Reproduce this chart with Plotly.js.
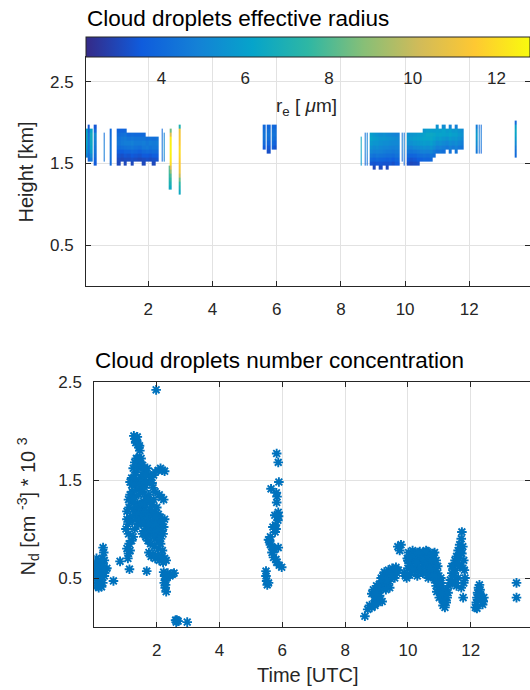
<!DOCTYPE html>
<html>
<head>
<meta charset="utf-8">
<script src="https://cdn.plot.ly/plotly-3.0.1.min.js"></script>
<style>html,body{margin:0;padding:0;background:#fff}#chart{width:530px;height:690px}</style>
</head>
<body>
<div id="chart"></div>
<script>
// ---------- Top panel: cloud droplet effective radius (time-height) ----------
const reHeights = [1.15,1.20,1.25,1.30,1.35,1.40,1.45,1.50,1.55,1.60,1.65,1.70,1.75,1.80,1.85,1.90,1.95,2.00]; // km
const reColStart = [0.05,0.12,0.17,0.30,0.60,0.80,1.03,1.13,1.23,1.34,1.45,1.56,1.67,1.78,1.91,2.01,2.12,2.22,2.42,2.47,2.63,2.67,2.96,
  5.56,5.68,5.83,5.92,8.61,8.73,8.79,8.89,8.99,9.09,9.19,9.29,9.39,9.49,9.59,9.69,9.79,9.88,9.96,
  10.05,10.15,10.25,10.35,10.45,10.55,10.65,10.75,10.85,10.95,11.05,11.15,11.25,11.35,11.45,11.55,11.65,11.75,12.20,12.28,12.36,13.42];
const reColEnd = [0.12,0.17,0.27,0.38,0.64,0.85,1.13,1.23,1.34,1.45,1.56,1.67,1.78,1.91,2.01,2.12,2.22,2.33,2.46,2.50,2.67,2.73,3.01,
  5.66,5.80,5.90,6.00,8.65,8.77,8.83,8.99,9.09,9.19,9.29,9.39,9.49,9.59,9.69,9.79,9.84,9.92,10.00,
  10.15,10.25,10.35,10.45,10.55,10.65,10.75,10.85,10.95,11.05,11.15,11.25,11.35,11.45,11.55,11.65,11.75,11.81,12.26,12.33,12.40,13.48];
const reColBase = [1.60,1.55,1.55,1.50,1.55,1.50,1.50,1.55,1.50,1.55,1.50,1.55,1.55,1.50,1.55,1.55,1.50,1.55,1.55,1.55,1.20,1.20,1.15,
  1.70,1.65,1.70,1.70,1.50,1.50,1.50,1.50,1.45,1.50,1.45,1.50,1.45,1.50,1.50,1.50,1.50,1.55,1.50,
  1.50,1.50,1.50,1.50,1.55,1.55,1.55,1.55,1.60,1.65,1.65,1.65,1.70,1.65,1.70,1.65,1.70,1.70,1.65,1.65,1.65,1.60];
const reColValues = [ // r_e in micrometre, from the column base upward in 0.05 km steps
  [5.0,5.5,6.0,6.2,6.4,6.5,6.3],
  [3.8,4.1,4.3,4.4,4.5,4.4,4.2,3.9,3.4],
  [4.6,5.2,5.8,6.2,6.4,6.5,6.6,6.2],
  [3.5,3.8,4.1,4.3,4.5,4.7,4.9,5.1,4.0,3.4],
  [4.4,4.6,4.7,4.7,4.6,4.4,4.2],
  [4.0,4.2,4.3,4.4,4.4,4.3,4.2,4.1,4.0],
  [3.0,3.1,3.3,3.6,4.1,4.4,4.3,4.1,3.8],
  [3.0,3.2,3.6,4.2,4.6,4.5,4.2,3.8],
  [3.0,3.1,3.4,3.8,4.3,4.7,4.6,4.3,3.9],
  [3.1,3.3,3.8,4.4,4.7,4.4,4.0],
  [3.0,3.2,3.5,4.0,4.5,4.8,4.5,4.1],
  [3.1,3.4,3.9,4.3,4.6,4.4,4.0],
  [3.0,3.3,3.7,4.2,4.6,4.4,4.0],
  [3.0,3.1,3.5,4.0,4.5,4.7,4.4,4.0],
  [3.2,3.5,4.1,4.6,4.5,4.2],
  [3.1,3.4,4.0,4.4,4.7,4.3],
  [3.0,3.2,3.6,4.1,4.5,4.6,4.2],
  [3.3,3.6,4.1,4.5,4.7,4.4],
  [4.0,4.2,4.3,4.4,4.3,4.2,4.1,4.0],
  [4.8,5.0,5.2,5.3,5.2,5.0,4.8],
  [6.6,7.0,7.2,7.4,7.6,7.8],
  [6.5,7.0,7.5,8.0,9.0,10.5,12.0,12.3,12.5,12.6,12.6,12.5,12.4,10.5,8.5],
  [6.5,7.0,7.5,8.5,10.0,11.0,11.3,11.5,11.6,11.8,12.0,11.8,11.5,11.3,11.2,11.0,7.0],
  [3.5,4.0,4.3,4.4,4.2,4.0],
  [3.2,3.4,3.8,4.2,4.4,4.2,3.9],
  [3.7,4.1,4.4,4.5,4.3,4.0],
  [3.3,3.7,4.1,4.3,4.2,3.9],
  [5.8,6.0,6.2,6.4,6.5,6.6,6.4],
  [4.0,4.2,4.4,4.6,4.7,4.7,4.6,4.4],
  [4.2,4.4,4.6,4.8,4.9,4.9,4.8,4.6],
  [3.4,4.0,4.5,5.0,5.4,5.8,6.2,6.0],
  [3.0,3.3,3.8,4.3,4.8,5.2,5.6,5.9,5.7],
  [3.4,4.0,4.5,4.9,5.3,5.6,5.8,5.5],
  [3.1,3.4,3.9,4.4,4.8,5.1,5.4,5.6,5.3],
  [3.3,3.8,4.3,4.7,5.0,5.3,5.6,5.4],
  [3.0,3.3,3.7,4.2,4.6,5.0,5.3,5.5,5.2],
  [3.4,3.8,4.2,4.6,4.9,5.2,5.4,5.1],
  [3.2,3.6,4.1,4.5,4.8,5.1,5.3,5.0],
  [3.5,3.9,4.3,4.6,4.9,5.1,5.2,4.9],
  [3.6,4.0,4.3,4.6,4.8,5.0,5.0,4.8],
  [4.0,4.2,4.4,4.6,4.7,4.6,4.4],
  [3.9,4.1,4.4,4.6,4.8,4.8,4.6,4.4],
  [3.2,3.5,4.0,4.5,5.0,5.4,5.7,5.5],
  [3.0,3.3,3.8,4.4,4.9,5.4,5.8,5.6],
  [3.1,3.4,3.9,4.5,5.1,5.6,5.9,5.7],
  [3.2,3.6,4.1,4.6,5.2,5.7,6.0,5.8],
  [3.7,4.2,4.8,5.3,5.8,6.1,5.9],
  [3.9,4.3,4.9,5.4,5.9,6.2,6.1,5.7],
  [3.8,4.2,4.8,5.3,5.8,6.2,6.3,5.9],
  [4.0,4.4,5.0,5.5,6.0,6.3,6.4,6.0],
  [4.2,4.6,5.2,5.7,6.1,6.3,5.9],
  [4.3,4.8,5.3,5.8,6.1,6.0,5.5],
  [4.4,4.9,5.4,5.9,6.2,5.9],
  [4.2,4.7,5.2,5.7,6.1,6.1,5.3],
  [4.5,5.0,5.5,6.0,5.8],
  [4.3,4.8,5.3,5.8,6.2,6.0,5.0],
  [4.6,5.1,5.6,6.0,5.7],
  [4.4,4.8,5.3,5.7,6.0,5.8,4.8],
  [4.5,5.0,5.4,5.7,5.5],
  [4.4,4.7,5.1,5.4,5.2],
  [4.5,4.9,5.3,5.6,5.8,5.4,4.6],
  [4.1,4.4,4.6,4.8,4.8,4.6,4.2],
  [3.9,4.2,4.4,4.5,4.5,4.4,4.1],
  [4.0,4.2,4.6,5.2,5.8,6.2,6.4,6.0,4.0]
];
const reRange = [2.2, 12.8];
const reTicks = [4, 6, 8, 10, 12];

// ---------- Bottom panel: cloud droplet number concentration ----------
const ndTime = [
  0.03,0.05,0.06,0.08,0.10,0.12,0.14,0.16,0.18,0.20,0.22,0.25,0.27,0.29,0.31,0.33,0.04,0.07,0.11,0.15,0.19,0.24,0.28,0.33,0.38,0.41,0.09,0.13,0.17,0.21,0.26,0.30,
  0.05,0.08,0.12,0.18,0.22,0.28,0.32,0.02,0.06,0.14,
  0.62,0.83,1.13,1.68,1.98,
  1.27,1.30,1.33,1.36,1.40,1.43,1.46,1.45,1.38,
  1.40,1.45,1.50,1.42,1.35,1.30,1.25,1.20,1.15,1.28,1.38,1.48,1.55,1.52,1.45,1.35,1.22,1.15,1.10,1.18,1.30,1.42,1.55,1.62,1.65,1.58,1.48,1.35,1.25,1.12,1.05,1.60,1.70,1.75,1.82,1.90,1.95,2.05,2.12,2.18,2.25,1.88,1.95,2.08,2.15,2.22,1.85,
  1.55,1.60,1.50,1.45,1.40,1.35,1.65,1.70,1.75,1.80,1.85,1.90,2.00,2.05,2.10,1.95,1.88,1.82,1.68,1.60,1.40,1.32,1.25,1.20,1.25,1.30,1.35,1.50,1.55,1.60,1.65,1.70,
  1.05,1.08,1.02,1.10,1.15,1.22,1.28,1.35,1.42,1.48,1.52,1.58,1.62,1.68,1.72,1.78,1.85,1.92,2.00,2.05,2.12,2.18,2.22,2.15,2.08,2.00,1.92,1.85,1.78,1.70,1.65,1.72,1.80,1.90,1.98,2.05,2.12,2.20,2.25,1.95,1.75,1.60,1.55,1.30,1.25,1.20,1.12,1.05,1.10,1.08,1.15,
  1.75,1.82,1.88,1.95,2.02,2.08,2.15,2.20,2.25,2.30,1.92,2.05,2.12,2.18,
  2.22,2.25,2.28,2.24,2.27,2.30,2.32,2.35,2.42,2.50,2.55,2.28,
  2.60,2.64,2.68,2.62,2.97,
  5.82,5.87,5.89,5.64,5.81,5.83,5.82,5.87,5.88,5.86,5.76,5.78,5.80,5.77,5.62,5.60,5.62,5.56,5.87,5.67,5.72,5.82,5.98,5.48,5.48,5.50,5.52,5.56,5.75,5.80,5.90,5.70,5.66,
  8.63,8.72,8.78,8.85,8.92,8.98,9.05,9.12,9.18,8.85,8.90,8.95,9.00,9.05,9.10,9.15,9.20,9.25,9.30,9.38,9.42,9.20,9.25,9.32,9.38,9.45,9.50,9.55,9.62,9.70,9.28,9.45,9.58,9.68,9.74,9.78,9.88,9.92,
  9.10,9.30,9.35,9.50,9.65,9.00,8.95,9.15,
  10.00,10.00,10.02,10.10,10.12,10.15,10.20,10.22,10.25,10.30,10.35,10.38,10.42,10.45,10.50,10.55,10.58,10.62,10.65,10.70,10.72,10.78,10.82,10.85,10.88,9.96,10.05,10.30,10.48,
  10.05,10.18,10.28,10.40,10.52,10.60,10.68,10.75,10.90,10.95,10.08,10.33,10.58,10.80,10.15,10.40,10.68,9.98,
  10.55,10.65,10.75,10.85,10.90,10.95,11.00,11.05,11.10,11.12,11.18,11.22,11.25,11.15,10.95,11.05,11.00,10.92,11.08,11.20,10.80,10.70,
  10.85,10.98,11.10,11.15,11.28,11.05,
  11.30,11.35,11.40,11.42,11.45,11.48,11.50,11.52,11.55,11.58,11.60,11.62,11.65,11.68,11.70,11.72,11.75,11.78,11.80,11.82,11.78,11.76,11.70,11.60,11.55,
  11.40,11.50,11.65,11.72,11.75,
  12.15,12.18,12.20,12.22,12.25,12.28,12.30,12.32,12.35,12.38,12.40,12.42,12.20,
  13.46,13.46
];
const ndValue = [
  0.62,0.58,0.66,0.55,0.60,0.52,0.48,0.45,0.50,0.46,0.55,0.62,0.70,0.81,0.76,0.68,0.44,0.47,0.42,0.40,0.43,0.41,0.45,0.52,0.58,0.60,0.64,0.57,0.53,0.62,0.66,0.58,
  0.50,0.70,0.62,0.58,0.68,0.62,0.58,0.55,0.42,0.55,
  0.47,0.67,0.59,0.57,2.42,
  1.95,1.92,1.88,1.90,1.86,1.83,1.80,1.85,1.94,
  1.72,1.68,1.65,1.62,1.58,1.55,1.50,1.52,1.48,1.45,1.48,1.52,1.55,1.45,1.42,1.40,1.38,1.35,1.30,1.28,1.32,1.35,1.38,1.42,1.33,1.28,1.25,1.22,1.20,1.22,1.18,1.50,1.47,1.55,1.53,1.55,1.58,1.60,1.62,1.60,1.59,1.42,1.38,1.35,1.32,1.30,1.47,
  1.20,1.15,1.18,1.25,1.20,1.15,1.25,1.30,1.35,1.28,1.25,1.30,1.08,1.02,1.05,0.98,1.08,1.02,1.08,1.05,1.05,1.25,1.30,1.45,1.62,1.68,1.72,1.72,1.65,1.60,1.55,1.62,
  1.10,1.05,1.00,0.95,1.12,1.08,1.15,1.10,1.15,1.10,1.05,1.15,1.08,1.18,1.12,1.20,1.15,1.18,1.22,1.15,1.12,1.08,1.02,0.98,0.95,1.00,1.05,0.98,0.95,1.00,0.92,0.88,0.85,0.92,0.90,0.88,0.90,0.95,1.10,1.12,1.05,0.98,0.95,1.00,0.92,0.88,0.85,0.80,0.75,0.70,0.78,
  0.76,0.72,0.74,0.70,0.73,0.68,0.72,0.66,0.70,0.68,0.82,0.80,0.85,0.78,
  0.56,0.52,0.48,0.45,0.40,0.36,0.50,0.55,0.52,0.54,0.55,0.43,
  0.07,0.07,0.06,0.05,0.05,
  1.77,1.68,1.48,1.41,1.37,1.33,1.27,1.17,1.13,1.09,1.14,1.04,1.00,0.97,0.92,0.88,0.84,0.89,0.81,0.76,0.71,0.66,0.61,0.57,0.52,0.47,0.43,0.45,0.79,0.69,0.63,1.02,0.82,
  0.11,0.18,0.22,0.20,0.24,0.27,0.25,0.28,0.26,0.34,0.38,0.31,0.42,0.36,0.44,0.39,0.46,0.42,0.45,0.44,0.40,0.52,0.56,0.53,0.58,0.55,0.60,0.57,0.61,0.58,0.49,0.49,0.50,0.82,0.78,0.84,0.55,0.52,
  0.32,0.38,0.48,0.52,0.55,0.35,0.22,0.50,
  0.60,0.68,0.76,0.63,0.72,0.78,0.58,0.67,0.75,0.62,0.70,0.77,0.60,0.68,0.75,0.63,0.71,0.77,0.58,0.67,0.74,0.62,0.70,0.76,0.60,0.50,0.53,0.52,0.55,
  0.65,0.70,0.66,0.72,0.68,0.65,0.72,0.68,0.68,0.62,0.72,0.76,0.78,0.75,0.58,0.57,0.55,0.70,
  0.55,0.50,0.52,0.48,0.42,0.45,0.38,0.33,0.28,0.22,0.20,0.25,0.30,0.35,0.55,0.50,0.30,0.36,0.42,0.38,0.58,0.60,
  0.52,0.48,0.35,0.25,0.35,0.45,
  0.42,0.48,0.55,0.45,0.62,0.52,0.68,0.58,0.72,0.65,0.78,0.70,0.84,0.76,0.90,0.97,0.82,0.68,0.58,0.50,0.45,0.30,0.40,0.50,0.42,
  0.62,0.45,0.62,0.75,0.60,
  0.20,0.25,0.30,0.35,0.40,0.43,0.38,0.33,0.28,0.23,0.26,0.30,0.19,
  0.45,0.30
];
const timeTicks = [2, 4, 6, 8, 10, 12];
const heightTicks = [0.5, 1.5, 2.5];
const ndTicks = [0.5, 1.5, 2.5];

// ---------- build heatmap table ----------
const xEdges = [reColStart[0]];
const colIndex = [];
for (let i = 0; i < reColStart.length; i++) {
  if (i > 0 && reColStart[i] > reColEnd[i - 1] + 1e-9) { colIndex.push(null); xEdges.push(reColStart[i]); }
  colIndex.push(i); xEdges.push(reColEnd[i]);
}
const zMatrix = reHeights.map(h => colIndex.map(c => {
  if (c === null) return null;
  const k = Math.round((h - reColBase[c]) / 0.05);
  if (k < 0 || k >= reColValues[c].length) return null;
  return reColValues[c][k];
}));

const parula = [
  [0.000,'#352a87'],[0.125,'#0f5cdd'],[0.250,'#1481d6'],[0.375,'#06a4ca'],
  [0.500,'#2eb7a4'],[0.625,'#87bf77'],[0.750,'#d1bb59'],[0.875,'#fec832'],[1.000,'#f9fb0e']
];

const W = 530, H = 690;
const FONT = '"Liberation Sans", Arial, Helvetica, sans-serif';
const INK = '#262626';
const px = v => v / W, py = v => 1 - v / H;

const heat = {
  type: 'heatmap', x: xEdges, y: reHeights, z: zMatrix,
  xaxis: 'x', yaxis: 'y', colorscale: parula, zmin: reRange[0], zmax: reRange[1],
  zsmooth: false, hoverinfo: 'skip', showscale: true,
  colorbar: {
    orientation: 'h', x: px(86), xanchor: 'left', y: py(37.3), yanchor: 'top',
    len: 444, lenmode: 'pixels', thickness: 20, thicknessmode: 'pixels',
    xpad: 0, ypad: 0, outlinewidth: 1, outlinecolor: INK,
    tickmode: 'array', tickvals: reTicks, ticks: 'outside', ticklen: 7, tickcolor: 'rgba(0,0,0,0)',
    tickfont: {family: FONT, size: 17, color: INK}
  }
};
const scat = {
  type: 'scatter', mode: 'markers', x: ndTime, y: ndValue, xaxis: 'x2', yaxis: 'y2',
  hoverinfo: 'skip',
  marker: {symbol: 'asterisk-open', size: 8, color: '#0072BD', line: {color: '#0072BD', width: 1.9}}
};

const ax = {
  showline: true, linecolor: INK, linewidth: 1, ticks: 'inside', ticklen: 5, tickwidth: 1, tickcolor: INK,
  showgrid: true, gridcolor: '#e2e2e2', gridwidth: 1, zeroline: false, fixedrange: true,
  tickfont: {family: FONT, size: 17, color: INK}, tickmode: 'array'
};

const layout = {
  width: W, height: H, margin: {l: 0, r: 0, t: 0, b: 0},
  paper_bgcolor: '#fff', plot_bgcolor: '#fff', showlegend: false,
  font: {family: FONT, color: INK, size: 17},
  xaxis: Object.assign({}, ax, {domain: [px(86), 1], anchor: 'y', range: [0.06, 13.89], tickvals: timeTicks, mirror: true, ticklabelstandoff: 8}),
  yaxis: Object.assign({}, ax, {domain: [py(286), py(57.3)], anchor: 'x', range: [0, 2.8], tickvals: heightTicks, mirror: 'ticks', ticklabelstandoff: 8}),
  xaxis2: Object.assign({}, ax, {domain: [px(94.3), 1], anchor: 'y2', range: [0.01, 13.89], tickvals: timeTicks, mirror: 'ticks', ticklabelstandoff: 8}),
  yaxis2: Object.assign({}, ax, {domain: [py(627), py(382)], anchor: 'x2', range: [0, 2.5], tickvals: ndTicks, mirror: 'ticks', ticklabelstandoff: 8}),
  annotations: [
    {text: 'Cloud droplets effective radius', xref: 'paper', yref: 'paper', x: px(85), y: py(33), xanchor: 'left', yanchor: 'bottom', showarrow: false, font: {family: FONT, size: 22.5, color: '#000'}},
    {text: 'Cloud droplets number concentration', xref: 'paper', yref: 'paper', x: px(93), y: py(375), xanchor: 'left', yanchor: 'bottom', showarrow: false, font: {family: FONT, size: 22.5, color: '#000'}},
    {text: 'r<sub>e</sub> [ <i>μ</i>m]', xref: 'paper', yref: 'paper', x: px(306), y: py(107), xanchor: 'center', yanchor: 'middle', showarrow: false, font: {family: FONT, size: 19, color: INK}},
    {text: 'Height [km]', xref: 'paper', yref: 'paper', x: px(25.5), y: py(172), xanchor: 'center', yanchor: 'middle', textangle: -90, showarrow: false, font: {family: FONT, size: 20, color: INK}},
    {text: 'N<sub>d</sub> [cm <sup>-3</sup>] * 10 <sup>3</sup>', xref: 'paper', yref: 'paper', x: px(27.5), y: py(507), xanchor: 'center', yanchor: 'middle', textangle: -90, showarrow: false, font: {family: FONT, size: 20, color: INK}},
    {text: 'Time [UTC]', xref: 'paper', yref: 'paper', x: px(307.5), y: py(675), xanchor: 'center', yanchor: 'middle', showarrow: false, font: {family: FONT, size: 20, color: INK}}
  ]
};

Plotly.newPlot('chart', [heat, scat], layout, {displayModeBar: false, staticPlot: true});
</script>
</body>
</html>
